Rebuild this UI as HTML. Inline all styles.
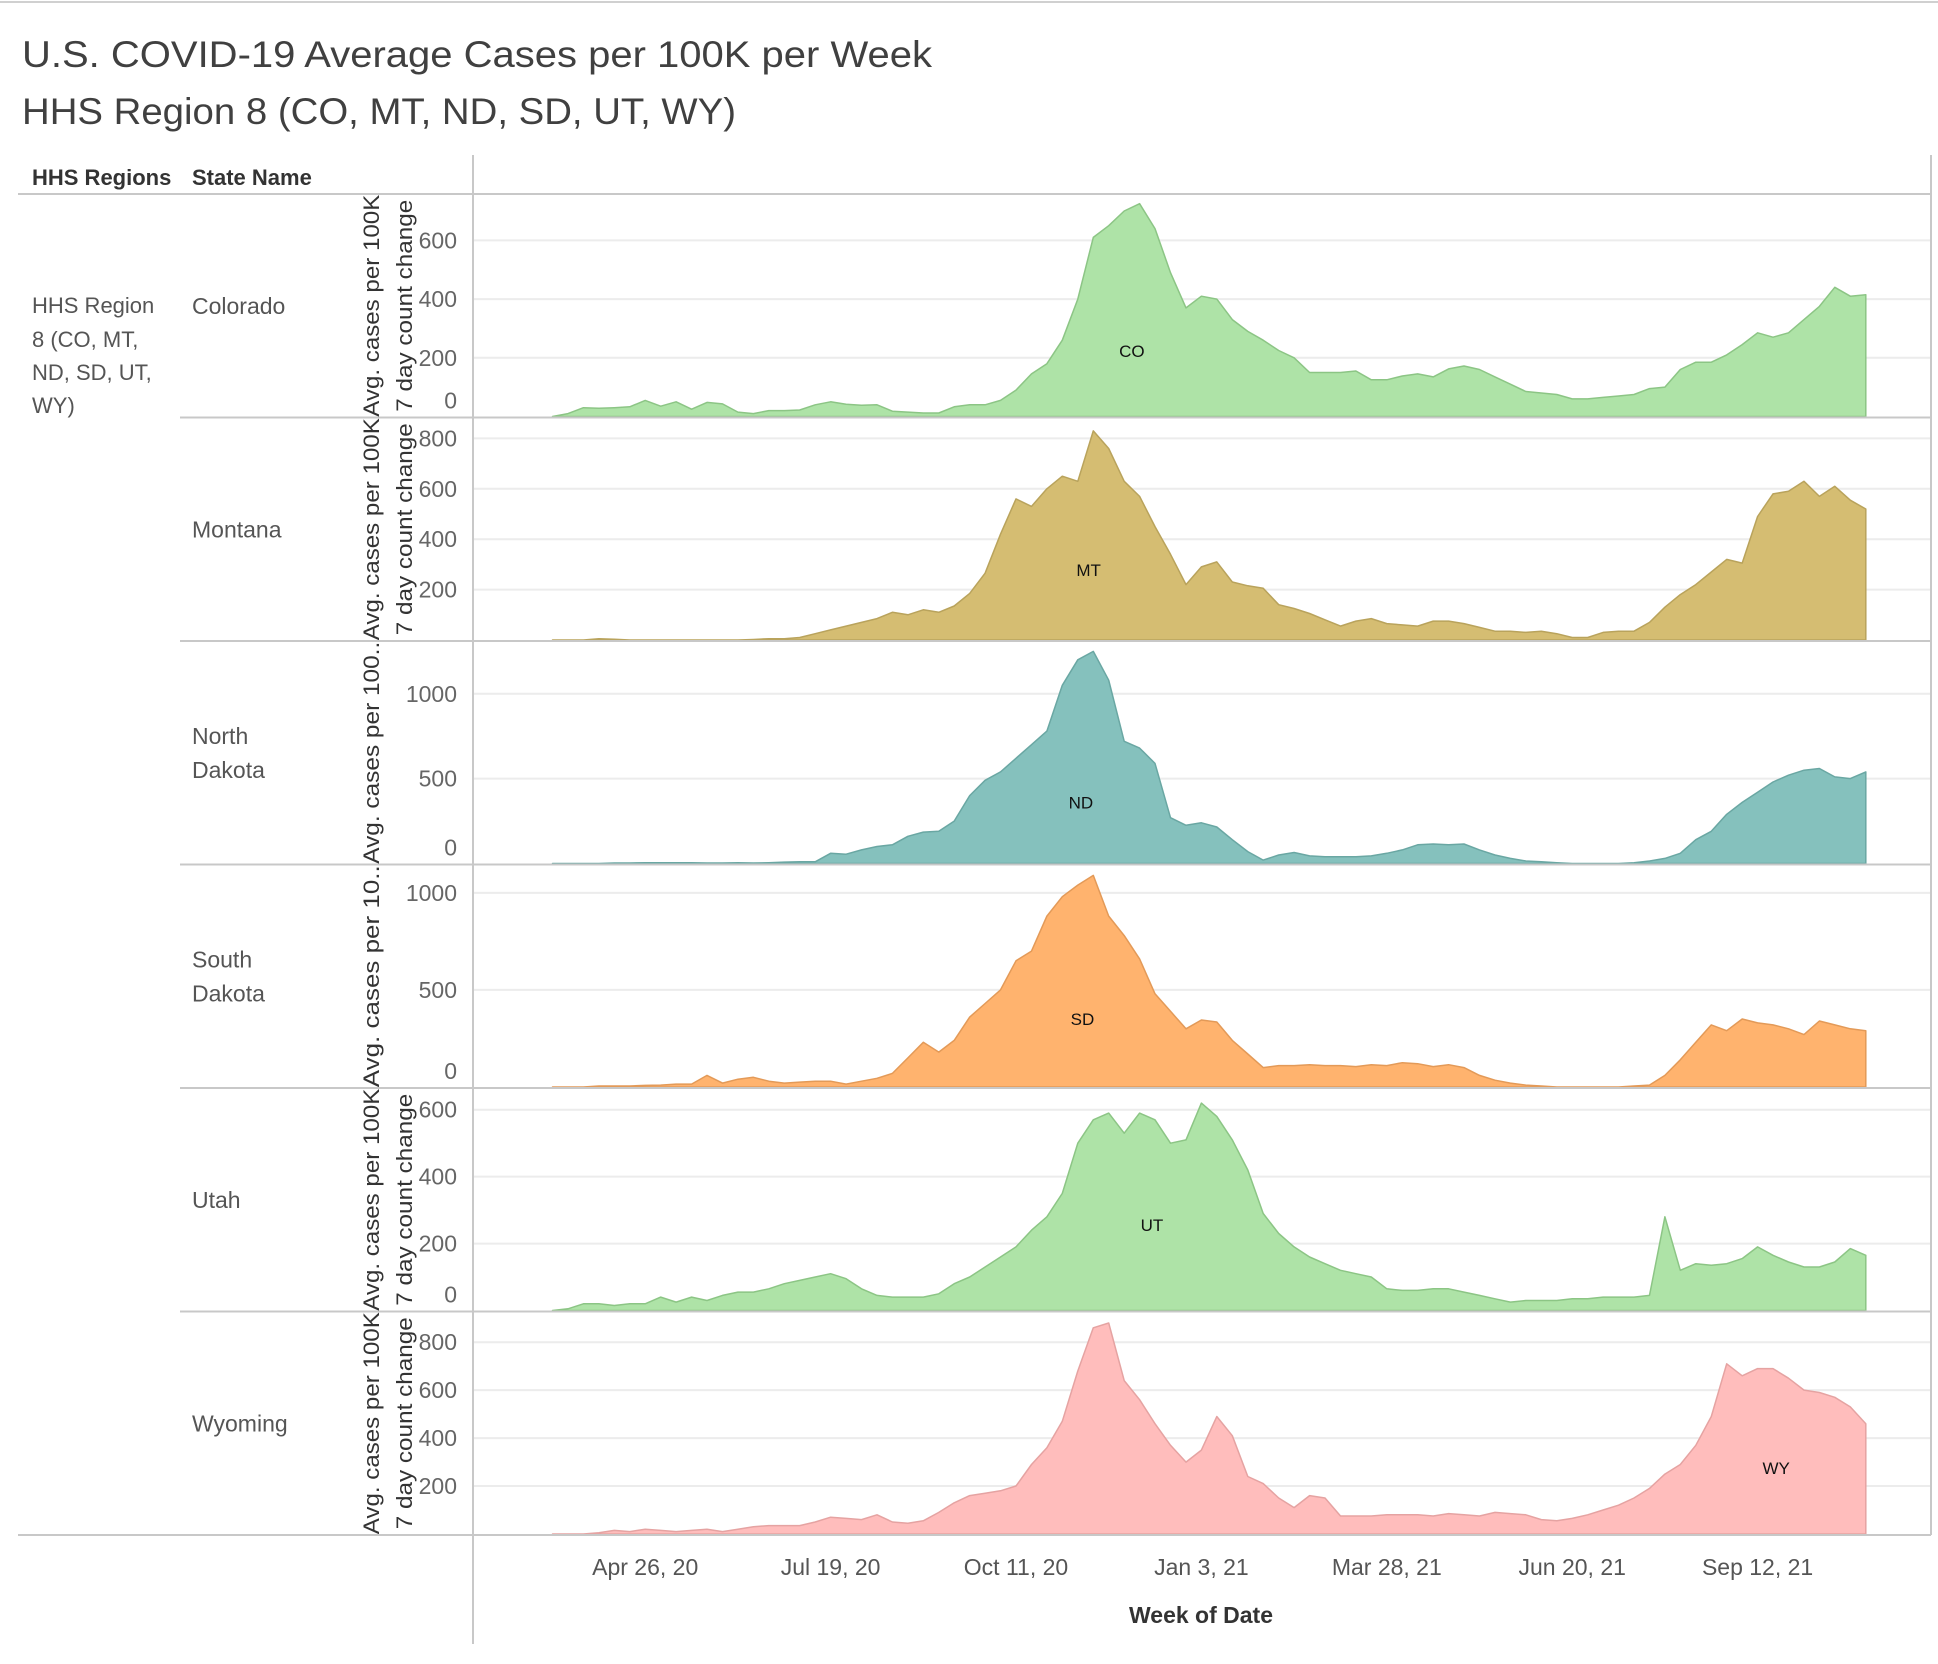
<!DOCTYPE html>
<html><head><meta charset="utf-8"><style>
html,body{margin:0;padding:0;background:#fff;}
svg{display:block;font-family:"Liberation Sans",sans-serif;}
</style></head><body>
<svg id="chart" width="1938" height="1664" viewBox="0 0 1938 1664" xmlns="http://www.w3.org/2000/svg">
<rect x="0" y="0" width="1938" height="1664" fill="#fff"/>
<line x1="0" y1="2" x2="1938" y2="2" stroke="#d0d0d0" stroke-width="2"/>
<text x="22" y="67" font-size="37" fill="#404040" textLength="910" lengthAdjust="spacingAndGlyphs">U.S. COVID-19 Average Cases per 100K  per Week</text>
<text x="22" y="124" font-size="37" fill="#404040" textLength="714" lengthAdjust="spacingAndGlyphs">HHS Region 8 (CO, MT, ND, SD, UT, WY)</text>
<text x="32" y="185" font-size="22" font-weight="bold" fill="#333">HHS Regions</text>
<text x="192" y="185" font-size="22" font-weight="bold" fill="#333">State Name</text>
<g font-size="22" fill="#555">
<text x="32" y="313">HHS Region</text><text x="32" y="347">8 (CO, MT,</text><text x="32" y="380">ND, SD, UT,</text><text x="32" y="413">WY)</text>
</g>
<g id="panels"></g>
<g id="frame"></g>
</svg>
<script>
const states = ["Colorado","Montana","North\nDakota","South\nDakota","Utah","Wyoming"];
const codes = ["CO","MT","ND","SD","UT","WY"];
const startWeek = 2; // week index (weeks since Mar 1, 2020) of first value
const coVals = [0,10,30,28,30,33,55,35,50,25, 48,43,15,10,20,20,22,40,50,42, 38,40,18,15,12,12,33,40,40,55, 90,145,180,260,400,610,650,700,725,640, 490,370,410,400,330,290,260,225,200,150, 150,150,155,125,125,138,145,135,162,172, 160,135,110,85,80,75,60,60,65,70, 75,95,100,160,185,185,210,245,285,270, 285,330,375,440,410,415];
const mtVals = [0,0,0,5,3,0,0,0,0,0, 0,0,0,2,5,5,10,25,40,55, 70,85,110,100,120,110,135,185,265, 420,560,530,600,650,630,830,760,630,570, 450,340,220,290,310,230,215,205,140,125, 105,80,55,75,85,65,60,55,75,75, 65,50,35,35,30,35,25,10,10,30, 35,35,70,130,180,220,270,320,305,490, 580,590,630,570,610,555,520];
const ndVals = [0,0,0,0,3,3,5,5,5,5, 3,3,5,3,5,8,10,10,60,55, 80,100,110,160,185,190,250,400, 490,540,620,700,780,1050,1200,1250,1080,720, 680,590,270,225,240,215,140,70,20,50, 65,45,40,40,40,45,60,80,110,115, 110,115,80,50,30,15,10,5,0,0,0,0, 5,15,30,60,140,190,290,360,420,480, 520,550,560,510,500,540];
const sdVals = [0,0,0,5,5,5,8,10,15,15, 60,20,40,50,30,20,25,30,30,15, 30,45,70,150,230,180,240,360,430,500, 650,700,880,980,1040,1090,880,780,660,480, 390,300,345,335,240,170,100,110,110,115, 110,110,105,115,110,125,120,105,115,100, 60,35,20,10,5,0,0,0,0,0, 5,10,60,140,230,320,290,350,330,320, 300,270,340,320,300,290];
const utVals = [0,5,20,20,15,20,20,40,25,40, 30,45,55,55,65,80,90,100,110,95, 65,45,40,40,40,50,80,100,130,160, 190,240,280,350,500,570,590,530,590,570, 500,510,620,580,510,420,290,230,190,160, 140,120,110,100,65,60,60,65,65,55, 45,35,25,30,30,30,35,35,40,40, 40,45,280,120,140,135,140,155,190,165, 145,130,130,145,185,165];
const wyVals = [0,0,0,5,15,10,20,15,10,15, 20,10,20,30,35,35,35,50,70,65, 60,80,50,45,55,90,130,160,170,180, 200,290,360,470,680,860,880,640,560,460, 370,300,350,490,410,240,210,150,110,160, 150,75,75,75,80,80,80,75,85,80, 75,90,85,80,60,55,65,80,100,120, 150,190,250,290,370,490,710,660,690,690, 650,600,590,570,530,460];
const series = [coVals, mtVals, ndVals, sdVals, utVals, wyVals];
const yMax = [758, 883, 1311, 1146, 665, 928];
const yTicks = [[0,200,400,600],[200,400,600,800],[0,500,1000],[0,500,1000],[0,200,400,600],[200,400,600,800]];
const yTitle1 = ["Avg. cases per 100K","Avg. cases per 100K","Avg. cases per 100..","Avg. cases per 10..","Avg. cases per 100K","Avg. cases per 100K"];
const yTitle2 = ["7 day count change","7 day count change","","","7 day count change","7 day count change"];
const xTickWeeks = [8,20,32,44,56,68,80];
const xTickLabels = ["Apr 26, 20","Jul 19, 20","Oct 11, 20","Jan 3, 21","Mar 28, 21","Jun 20, 21","Sep 12, 21"];
const labelWeek = [39.5,36.7,36.2,36.3,40.8,81.2];
const labelVal = [223,278,360,350,255,275];
const fills = ["#aee3a7","#d5bd72","#85c1bd","#ffb36e","#aee3a7","#ffbdbc"];
const strokes = ["#8cc585","#b9a35c","#6aa7a3","#e39a58","#8cc585","#e5a3a2"];

const NS="http://www.w3.org/2000/svg";
const panelsG=document.getElementById('panels');
const frameG=document.getElementById('frame');
const plotL=474, plotR=1930, top0=194, ph=223.5;
function xScale(w){ return 645.2 + (w-8)*15.45; }
function mk(tag, attrs, parent){ const e=document.createElementNS(NS,tag); for(const k in attrs) e.setAttribute(k,attrs[k]); parent.appendChild(e); return e; }

const defs=mk('defs',{},document.getElementById('chart'));
series.forEach((vals,i)=>{
  const pt=top0+i*ph, pb=pt+ph;
  const base=pb-1;
  const yS=v=>base - v/yMax[i]*(ph-1);
  const g=mk('g',{},panelsG);
  
  
  const cp=mk('clipPath',{id:'clip'+i},defs);
  mk('rect',{x:340,y:pt,width:1600,height:ph},cp);
  yTicks[i].forEach(t=>{
    if(t===0) return;
    const gl=mk('line',{x1:plotL,x2:plotR,y1:yS(t),y2:yS(t),stroke:'#ececec','stroke-width':2},g);
    
    
  });
  let d='M'+xScale(startWeek)+','+base;
  vals.forEach((v,j)=>{ d+=' L'+xScale(startWeek+j).toFixed(1)+','+yS(v).toFixed(1); });
  d+=' L'+xScale(startWeek+vals.length-1).toFixed(1)+','+base+' Z';
  const a=mk('path',{d:d,fill:fills[i],stroke:strokes[i],'stroke-width':1.5,'stroke-linejoin':'round'},g);
  
  
  const lb=mk('text',{x:xScale(labelWeek[i]),y:yS(labelVal[i])+6,'font-size':17,fill:'#111','text-anchor':'middle'},g);
  lb.textContent=codes[i];
  
  
  yTicks[i].forEach(t=>{
    let cy=Math.min(yS(t), base-16);
    const tl=mk('text',{x:457,y:cy+8,'font-size':23,fill:'#666','text-anchor':'end'},g);
    tl.textContent=t;
    
    
  });
  const tg=mk('g',{'clip-path':'url(#clip'+i+')'},g);
  const cy=pt+ph/2;
  const t1=mk('text',{x:0,y:0,'font-size':22,fill:'#333','text-anchor':'middle',transform:'translate(379,'+cy+') rotate(-90)',textLength:222,lengthAdjust:'spacingAndGlyphs'},tg);
  t1.textContent=yTitle1[i];
  
  
  if(yTitle2[i]){
    const t2=mk('text',{x:0,y:0,'font-size':22,fill:'#333','text-anchor':'middle',transform:'translate(412,'+cy+') rotate(-90)',textLength:212,lengthAdjust:'spacingAndGlyphs'},tg);
    t2.textContent=yTitle2[i];
    
    
  }
  const lines=states[i].split('\n');
  const sy=cy - (lines.length-1)*17 + 8;
  lines.forEach((ln,k)=>{
    const st=mk('text',{x:192,y:sy+k*34,'font-size':23,fill:'#555'},g);
    st.textContent=ln;
    
    
  });
  if(i>0) mk('line',{x1:180,x2:1931,y1:pt,y2:pt,stroke:'#c8c8c8','stroke-width':2},frameG);
});
mk('line',{x1:18,x2:1931,y1:194,y2:194,stroke:'#c8c8c8','stroke-width':2},frameG);
mk('line',{x1:18,x2:1931,y1:1535,y2:1535,stroke:'#c8c8c8','stroke-width':2},frameG);
mk('line',{x1:473,x2:473,y1:155,y2:1644,stroke:'#c8c8c8','stroke-width':2},frameG);
mk('line',{x1:1931,x2:1931,y1:155,y2:1535,stroke:'#c8c8c8','stroke-width':2},frameG);
xTickWeeks.forEach((w,k)=>{
  const t=mk('text',{x:xScale(w),y:1575,'font-size':23,fill:'#555','text-anchor':'middle'},frameG);
  t.textContent=xTickLabels[k];
  
  
});
const xt=mk('text',{x:1201,y:1623,'font-size':23,'font-weight':'bold',fill:'#333','text-anchor':'middle'},frameG);
xt.textContent='Week of Date';


</script>
</body></html>
